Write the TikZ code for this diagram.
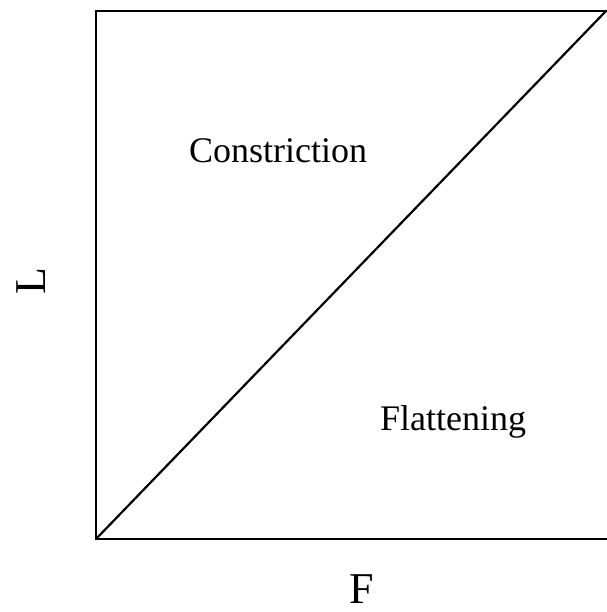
\documentclass[tikz,border=0pt]{standalone}
\usepackage{fontspec}
\setmainfont{Liberation Serif}
\usetikzlibrary{positioning}

\tikzset{
  frameline/.style={line width=2.6pt, line cap=rect},
  regionlabel/.style={font=\fontsize{36}{40}\selectfont, anchor=base, inner sep=0pt},
  axislabel/.style={font=\fontsize{44}{50}\selectfont, anchor=base, inner sep=0pt}
}

\begin{document}
\begin{tikzpicture}[x=1pt,y=-1pt]
  \useasboundingbox (0,0) rectangle (606,612);
  % frame corners
  \coordinate (origin) at (96,539);
  \coordinate (topleft) at (96,11);
  \coordinate (topright) at (606,11);
  \coordinate (botright) at (606,539);
  % frame and diagonal
  \draw[frameline] (topright) -- (topleft) -- (origin) -- (botright);
  \draw[line width=2.2pt] (origin) -- (topright);
  % region labels
  \node[regionlabel] (constr) at (278,163) {Constriction};
  \node[regionlabel] (flat) at (453,430) {Flattening};
  % axis labels
  \node[axislabel] (xlab) at (362,603) {F};
  \node[axislabel, rotate=90] (ylab) at (45,281) {L};
\end{tikzpicture}
\end{document}
